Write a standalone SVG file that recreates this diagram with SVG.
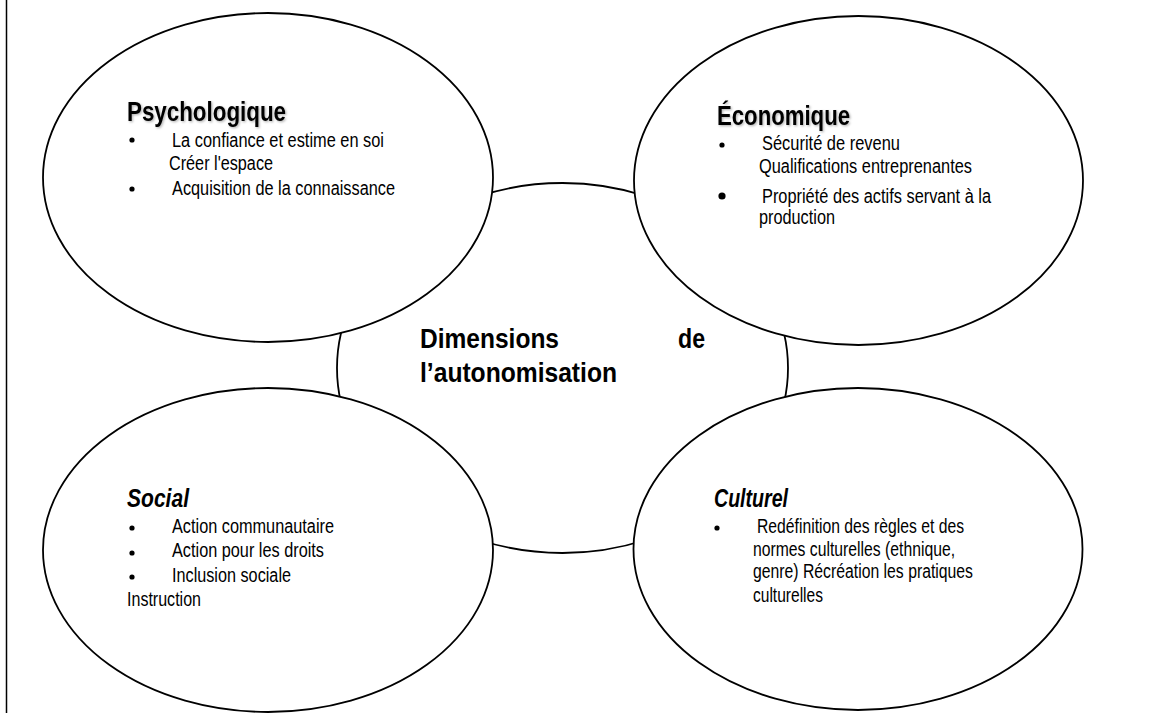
<svg xmlns="http://www.w3.org/2000/svg" width="1164" height="713" viewBox="0 0 1164 713">
  <defs>
    <filter id="soft-shadow" x="-10%" y="-30%" width="130%" height="180%">
      <feDropShadow dx="1.2" dy="1.2" stdDeviation="0.8" flood-color="#000" flood-opacity="0.3"/>
    </filter>
  </defs>
  <style>
    .ring { fill: #fff; stroke: #000; stroke-width: 1.8; }
    .frame { stroke: #000; stroke-width: 1.5; }
    text { font-family: "Liberation Sans Narrow", "Arial Narrow", "Liberation Sans", Arial, sans-serif; fill: #000; }
    .title { font-size: 27px; font-weight: bold; filter: url(#soft-shadow); }
    .title-it { font-size: 25px; font-weight: bold; font-style: italic; }
    .body { font-size: 20px; }
    .center { font-size: 28px; font-weight: bold; }
    .dot { fill: #000; }
  </style>

  <rect width="1164" height="713" fill="#fff"/>
  <line class="frame" x1="6.5" y1="0" x2="6.5" y2="713"/>

  <!-- hub, drawn first so the four rings sit on top of it -->
  <g id="hub">
    <ellipse class="ring" cx="562.5" cy="368" rx="225.5" ry="185"/>
    <text class="center" x="420" y="348" textLength="139" lengthAdjust="spacingAndGlyphs">Dimensions</text>
    <text class="center" x="678" y="348" textLength="27" lengthAdjust="spacingAndGlyphs">de</text>
    <text class="center" x="420" y="382" textLength="197" lengthAdjust="spacingAndGlyphs">l’autonomisation</text>
  </g>

  <!-- the rings overlap the hub directly; no separate lines -->
  <g id="connectors"/>

  <g id="psychologique">
    <ellipse class="ring" cx="268" cy="177.5" rx="225" ry="164.5"/>
    <text class="title" x="127" y="121" textLength="159" lengthAdjust="spacingAndGlyphs">Psychologique</text>
    <circle class="dot" cx="132" cy="140" r="2.6"/>
    <text class="body" x="172" y="147" textLength="212" lengthAdjust="spacingAndGlyphs">La confiance et estime en soi</text>
    <text class="body" x="169" y="170" textLength="104" lengthAdjust="spacingAndGlyphs">Créer l'espace</text>
    <circle class="dot" cx="132" cy="189" r="2.6"/>
    <text class="body" x="172" y="195" textLength="223" lengthAdjust="spacingAndGlyphs">Acquisition de la connaissance</text>
  </g>

  <g id="economique">
    <ellipse class="ring" cx="858.5" cy="180.5" rx="224.5" ry="164.5"/>
    <text class="title" x="717" y="125" textLength="133" lengthAdjust="spacingAndGlyphs">Économique</text>
    <circle class="dot" cx="722" cy="145" r="2.6"/>
    <text class="body" x="762" y="150" textLength="138" lengthAdjust="spacingAndGlyphs">Sécurité de revenu</text>
    <text class="body" x="759" y="173" textLength="213" lengthAdjust="spacingAndGlyphs">Qualifications entreprenantes</text>
    <circle class="dot" cx="722" cy="196" r="3.6"/>
    <text class="body" x="762" y="203" textLength="229" lengthAdjust="spacingAndGlyphs">Propriété des actifs servant à la</text>
    <text class="body" x="759" y="224" textLength="76" lengthAdjust="spacingAndGlyphs">production</text>
  </g>

  <g id="social">
    <ellipse class="ring" cx="268" cy="550" rx="225" ry="162"/>
    <text class="title-it" x="127" y="507" textLength="62" lengthAdjust="spacingAndGlyphs">Social</text>
    <circle class="dot" cx="132" cy="528" r="2.6"/>
    <text class="body" x="172" y="533" textLength="162" lengthAdjust="spacingAndGlyphs">Action communautaire</text>
    <circle class="dot" cx="132" cy="553" r="2.6"/>
    <text class="body" x="172" y="557" textLength="152" lengthAdjust="spacingAndGlyphs">Action pour les droits</text>
    <circle class="dot" cx="132" cy="577" r="2.6"/>
    <text class="body" x="172" y="582" textLength="119" lengthAdjust="spacingAndGlyphs">Inclusion sociale</text>
    <text class="body" x="127" y="606" textLength="74" lengthAdjust="spacingAndGlyphs">Instruction</text>
  </g>

  <g id="culturel">
    <ellipse class="ring" cx="858" cy="549" rx="224.5" ry="161"/>
    <text class="title-it" x="714" y="507" textLength="74" lengthAdjust="spacingAndGlyphs">Culturel</text>
    <circle class="dot" cx="717" cy="528" r="2.6"/>
    <text class="body" x="757" y="533" textLength="207" lengthAdjust="spacingAndGlyphs">Redéfinition des règles et des</text>
    <text class="body" x="753" y="556" textLength="202" lengthAdjust="spacingAndGlyphs">normes culturelles (ethnique,</text>
    <text class="body" x="753" y="578" textLength="220" lengthAdjust="spacingAndGlyphs">genre) Récréation les pratiques</text>
    <text class="body" x="753" y="602" textLength="70" lengthAdjust="spacingAndGlyphs">culturelles</text>
  </g>
</svg>
